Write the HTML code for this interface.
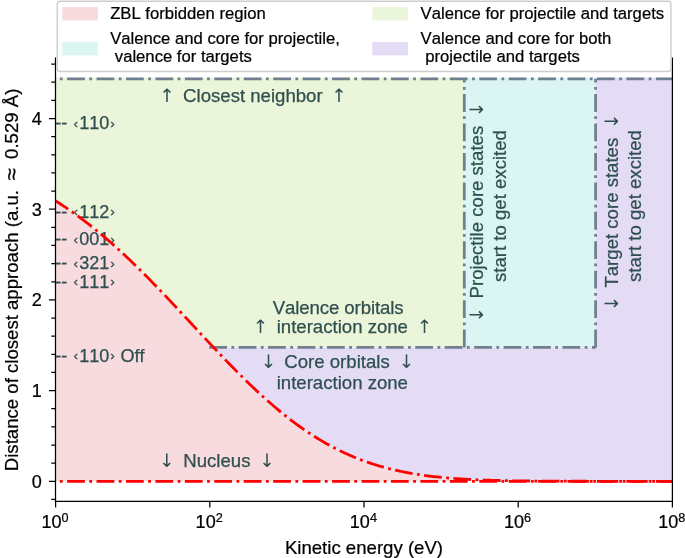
<!DOCTYPE html>
<html lang="en"><head><meta charset="utf-8"><title>Distance of closest approach vs kinetic energy</title>
<style>
html,body{margin:0;padding:0;background:#fff;}
svg{display:block;will-change:transform;}
text{font-family:"Liberation Sans","DejaVu Sans",sans-serif;font-size:18.06px;font-kerning:none;font-variant-ligatures:none;white-space:pre;}
.an{font-size:18.6px;fill:#2f4f4f;stroke:#2f4f4f;stroke-width:0.25px;}
.ar{font-family:"DejaVu Sans",sans-serif;font-size:18.5px;fill:#2f4f4f;text-anchor:middle;}
.gu{font-size:13.6px;}
.hk{font-size:18.06px;fill:#2f4f4f;stroke:#2f4f4f;stroke-width:0.25px;}
.tk{fill:#000;stroke:#000;stroke-width:0.22px;}
.al{font-size:18.6px;fill:#000;stroke:#000;stroke-width:0.22px;}
.lg{fill:#000;font-size:16.67px;stroke:#000;stroke-width:0.22px;}
.sup{font-size:12.64px;}
.gl{fill:none;stroke:#708090;stroke-width:2.78;stroke-dasharray:17.78 4.44 2.78 4.44;}
.rl{fill:none;stroke:#ff0000;stroke-width:2.78;stroke-dasharray:17.78 4.44 2.78 4.44;}
.ax{stroke:#000;stroke-width:1.25;fill:none;}
</style></head><body>
<svg width="685" height="558" viewBox="0 0 685 558">
<defs><clipPath id="axclip"><rect x="55.5" y="58.2" width="616.9" height="443.2"/></clipPath></defs>
<rect x="0" y="0" width="685" height="558" fill="#fff"/>
<g clip-path="url(#axclip)">
<polygon fill="#f8dbdf" points="55.50,200.79 57.50,202.07 59.50,203.36 61.50,204.66 63.50,205.99 65.50,207.33 67.50,208.69 69.50,210.07 71.50,211.46 73.50,212.88 75.50,214.31 77.50,215.76 79.50,217.23 81.50,218.72 83.50,220.22 85.50,221.74 87.50,223.29 89.50,224.84 91.50,226.42 93.50,228.02 95.50,229.63 97.50,231.27 99.50,232.91 101.50,234.58 103.50,236.27 105.50,237.97 107.50,239.69 109.50,241.43 111.50,243.18 113.50,244.95 115.50,246.74 117.50,248.55 119.50,250.37 121.50,252.20 123.50,254.05 125.50,255.92 127.50,257.80 129.50,259.70 131.50,261.61 133.50,263.54 135.50,265.48 137.50,267.43 139.50,269.40 141.50,271.38 143.50,273.37 145.50,275.38 147.50,277.39 149.50,279.42 151.50,281.46 153.50,283.51 155.50,285.56 157.50,287.63 159.50,289.71 161.50,291.80 163.50,293.89 165.50,295.99 167.50,298.10 169.50,300.21 171.50,302.34 173.50,304.46 175.50,306.60 177.50,308.73 179.50,310.87 181.50,313.02 183.50,315.17 185.50,317.32 187.50,319.47 189.50,321.62 191.50,323.77 193.50,325.93 195.50,328.08 197.50,330.23 199.50,332.39 201.50,334.53 203.50,336.68 205.50,338.82 207.50,340.96 209.50,343.10 211.50,345.23 213.50,347.35 215.50,349.47 217.50,351.58 219.50,353.69 221.50,355.78 223.50,357.87 225.50,359.95 227.50,362.02 229.50,364.08 231.50,366.13 233.50,368.17 235.50,370.20 237.50,372.21 239.50,374.21 241.50,376.20 243.50,378.18 245.50,380.14 247.50,382.09 249.50,384.02 251.50,385.94 253.50,387.84 255.50,389.72 257.50,391.59 259.50,393.44 261.50,395.28 263.50,397.09 265.50,398.89 267.50,400.67 269.50,402.43 271.50,404.17 273.50,405.90 275.50,407.60 277.50,409.28 279.50,410.94 281.50,412.58 283.50,414.20 285.50,415.80 287.50,417.38 289.50,418.93 291.50,420.47 293.50,421.98 295.50,423.47 297.50,424.94 299.50,426.38 301.50,427.81 303.50,429.21 305.50,430.58 307.50,431.94 309.50,433.27 311.50,434.58 313.50,435.87 315.50,437.13 317.50,438.37 319.50,439.59 321.50,440.78 323.50,441.95 325.50,443.10 327.50,444.23 329.50,445.33 331.50,446.42 333.50,447.48 335.50,448.51 337.50,449.53 339.50,450.52 341.50,451.49 343.50,452.44 345.50,453.36 347.50,454.27 349.50,455.15 351.50,456.02 353.50,456.86 355.50,457.68 357.50,458.48 359.50,459.27 361.50,460.03 363.50,460.77 365.50,461.49 367.50,462.19 369.50,462.88 371.50,463.54 373.50,464.19 375.50,464.82 377.50,465.43 379.50,466.02 381.50,466.60 383.50,467.16 385.50,467.70 387.50,468.23 389.50,468.74 391.50,469.23 393.50,469.71 395.50,470.17 397.50,470.62 399.50,471.06 401.50,471.48 403.50,471.88 405.50,472.28 407.50,472.66 409.50,473.02 411.50,473.38 413.50,473.72 415.50,474.05 417.50,474.36 419.50,474.67 421.50,474.96 423.50,475.25 425.50,475.52 427.50,475.78 429.50,476.04 431.50,476.28 433.50,476.51 435.50,476.74 437.50,476.96 439.50,477.16 441.50,477.36 443.50,477.55 445.50,477.73 447.50,477.91 449.50,478.08 451.50,478.24 453.50,478.39 455.50,478.54 457.50,478.68 459.50,478.81 461.50,478.94 463.50,479.07 465.50,479.18 467.50,479.30 469.50,479.40 471.50,479.50 473.50,479.60 475.50,479.69 477.50,479.78 479.50,479.87 481.50,479.95 483.50,480.02 485.50,480.09 487.50,480.16 489.50,480.23 491.50,480.29 493.50,480.35 495.50,480.40 497.50,480.46 499.50,480.51 501.50,480.55 503.50,480.60 505.50,480.64 507.50,480.68 509.50,480.72 511.50,480.75 513.50,480.79 515.50,480.82 517.50,480.85 519.50,480.88 521.50,480.91 523.50,480.93 525.50,480.95 527.50,480.98 529.50,481.00 531.50,481.02 533.50,481.04 535.50,481.05 537.50,481.07 539.50,481.09 541.50,481.10 543.50,481.11 545.50,481.13 547.50,481.14 549.50,481.15 551.50,481.16 553.50,481.17 555.50,481.18 557.50,481.19 559.50,481.20 561.50,481.20 563.50,481.21 565.50,481.22 567.50,481.22 569.50,481.23 571.50,481.23 573.50,481.24 575.50,481.24 577.50,481.25 579.50,481.25 581.50,481.26 583.50,481.26 585.50,481.26 587.50,481.27 589.50,481.27 591.50,481.27 593.50,481.27 595.50,481.28 597.50,481.28 599.50,481.28 601.50,481.28 603.50,481.28 605.50,481.28 607.50,481.29 609.50,481.29 611.50,481.29 613.50,481.29 615.50,481.29 617.50,481.29 619.50,481.29 621.50,481.29 623.50,481.29 625.50,481.29 627.50,481.29 629.50,481.29 631.50,481.29 633.50,481.30 635.50,481.30 637.50,481.30 639.50,481.30 641.50,481.30 643.50,481.30 645.50,481.30 647.50,481.30 649.50,481.30 651.50,481.30 653.50,481.30 655.50,481.30 657.50,481.30 659.50,481.30 661.50,481.30 663.50,481.30 665.50,481.30 667.50,481.30 669.50,481.30 671.50,481.30 672.40,481.30 672.40,481.30 55.50,481.30"/>
<polygon fill="#ebf5d9" points="55.50,200.79 57.50,202.07 59.50,203.36 61.50,204.66 63.50,205.99 65.50,207.33 67.50,208.69 69.50,210.07 71.50,211.46 73.50,212.88 75.50,214.31 77.50,215.76 79.50,217.23 81.50,218.72 83.50,220.22 85.50,221.74 87.50,223.29 89.50,224.84 91.50,226.42 93.50,228.02 95.50,229.63 97.50,231.27 99.50,232.91 101.50,234.58 103.50,236.27 105.50,237.97 107.50,239.69 109.50,241.43 111.50,243.18 113.50,244.95 115.50,246.74 117.50,248.55 119.50,250.37 121.50,252.20 123.50,254.05 125.50,255.92 127.50,257.80 129.50,259.70 131.50,261.61 133.50,263.54 135.50,265.48 137.50,267.43 139.50,269.40 141.50,271.38 143.50,273.37 145.50,275.38 147.50,277.39 149.50,279.42 151.50,281.46 153.50,283.51 155.50,285.56 157.50,287.63 159.50,289.71 161.50,291.80 163.50,293.89 165.50,295.99 167.50,298.10 169.50,300.21 171.50,302.34 173.50,304.46 175.50,306.60 177.50,308.73 179.50,310.87 181.50,313.02 183.50,315.17 185.50,317.32 187.50,319.47 189.50,321.62 191.50,323.77 193.50,325.93 195.50,328.08 197.50,330.23 199.50,332.39 201.50,334.53 203.50,336.68 205.50,338.82 207.50,340.96 209.50,343.10 211.50,345.23 213.50,347.35 213.54,347.40 464.30,347.40 464.30,77.60 55.50,77.60"/>
<polygon fill="#dbf6f2" points="464.30,77.60 595.60,77.60 595.60,347.40 464.30,347.40"/>
<polygon fill="#e4dbf5" points="213.54,347.40 215.54,349.52 217.54,351.63 219.54,353.73 221.54,355.83 223.54,357.92 225.54,360.00 227.54,362.07 229.54,364.13 231.54,366.18 233.54,368.21 235.54,370.24 237.54,372.26 239.54,374.26 241.54,376.25 243.54,378.22 245.54,380.18 247.54,382.13 249.54,384.06 251.54,385.98 253.54,387.88 255.54,389.77 257.54,391.63 259.54,393.49 261.54,395.32 263.54,397.14 265.54,398.93 267.54,400.71 269.54,402.47 271.54,404.21 273.54,405.93 275.54,407.64 277.54,409.32 279.54,410.98 281.54,412.62 283.54,414.24 285.54,415.84 287.54,417.41 289.54,418.97 291.54,420.50 293.54,422.01 295.54,423.50 297.54,424.97 299.54,426.41 301.54,427.84 303.54,429.24 305.54,430.61 307.54,431.97 309.54,433.30 311.54,434.61 313.54,435.89 315.54,437.16 317.54,438.40 319.54,439.61 321.54,440.81 323.54,441.98 325.54,443.13 327.54,444.26 329.54,445.36 331.54,446.44 333.54,447.50 335.54,448.53 337.54,449.55 339.54,450.54 341.54,451.51 343.54,452.46 345.54,453.39 347.54,454.29 349.54,455.17 351.54,456.04 353.54,456.88 355.54,457.70 357.54,458.50 359.54,459.28 361.54,460.04 363.54,460.78 365.54,461.51 367.54,462.21 369.54,462.89 371.54,463.56 373.54,464.20 375.54,464.83 377.54,465.44 379.54,466.04 381.54,466.61 383.54,467.17 385.54,467.71 387.54,468.24 389.54,468.75 391.54,469.24 393.54,469.72 395.54,470.18 397.54,470.63 399.54,471.07 401.54,471.49 403.54,471.89 405.54,472.28 407.54,472.66 409.54,473.03 411.54,473.38 413.54,473.72 415.54,474.05 417.54,474.37 419.54,474.68 421.54,474.97 423.54,475.25 425.54,475.53 427.54,475.79 429.54,476.04 431.54,476.29 433.54,476.52 435.54,476.74 437.54,476.96 439.54,477.17 441.54,477.37 443.54,477.56 445.54,477.74 447.54,477.91 449.54,478.08 451.54,478.24 453.54,478.40 455.54,478.54 457.54,478.68 459.54,478.82 461.54,478.95 463.54,479.07 465.54,479.19 467.54,479.30 469.54,479.40 471.54,479.51 473.54,479.60 475.54,479.70 477.54,479.78 479.54,479.87 481.54,479.95 483.54,480.02 485.54,480.09 487.54,480.16 489.54,480.23 491.54,480.29 493.54,480.35 495.54,480.40 497.54,480.46 499.54,480.51 501.54,480.55 503.54,480.60 505.54,480.64 507.54,480.68 509.54,480.72 511.54,480.75 513.54,480.79 515.54,480.82 517.54,480.85 519.54,480.88 521.54,480.91 523.54,480.93 525.54,480.96 527.54,480.98 529.54,481.00 531.54,481.02 533.54,481.04 535.54,481.05 537.54,481.07 539.54,481.09 541.54,481.10 543.54,481.11 545.54,481.13 547.54,481.14 549.54,481.15 551.54,481.16 553.54,481.17 555.54,481.18 557.54,481.19 559.54,481.20 561.54,481.20 563.54,481.21 565.54,481.22 567.54,481.22 569.54,481.23 571.54,481.23 573.54,481.24 575.54,481.24 577.54,481.25 579.54,481.25 581.54,481.26 583.54,481.26 585.54,481.26 587.54,481.27 589.54,481.27 591.54,481.27 593.54,481.27 595.54,481.28 597.54,481.28 599.54,481.28 601.54,481.28 603.54,481.28 605.54,481.28 607.54,481.29 609.54,481.29 611.54,481.29 613.54,481.29 615.54,481.29 617.54,481.29 619.54,481.29 621.54,481.29 623.54,481.29 625.54,481.29 627.54,481.29 629.54,481.29 631.54,481.29 633.54,481.30 635.54,481.30 637.54,481.30 639.54,481.30 641.54,481.30 643.54,481.30 645.54,481.30 647.54,481.30 649.54,481.30 651.54,481.30 653.54,481.30 655.54,481.30 657.54,481.30 659.54,481.30 661.54,481.30 663.54,481.30 665.54,481.30 667.54,481.30 669.54,481.30 671.54,481.30 672.40,481.30 672.40,77.60 595.60,77.60 595.60,347.40 213.54,347.40"/>
<path class="gl" d="M37.66,78.8 H672.4"/>
<path class="gl" d="M209.2,347.4 H595.6"/>
<path class="gl" d="M464.3,347.4 V78.8"/>
<path class="gl" d="M595.6,347.4 V78.8"/>

<text class="hk" y="128.8"><tspan x="55.3">--</tspan><tspan class="gu" x="73.4" dy="-1.3">‹</tspan><tspan x="79.3" dy="1.3">110</tspan><tspan class="gu" x="110.2" dy="-1.3">›</tspan><tspan dy="1.3"></tspan></text>
<text class="hk" y="217.5"><tspan x="55.3">--</tspan><tspan class="gu" x="73.4" dy="-1.3">‹</tspan><tspan x="79.3" dy="1.3">112</tspan><tspan class="gu" x="110.2" dy="-1.3">›</tspan><tspan dy="1.3"></tspan></text>
<text class="hk" y="244.9"><tspan x="55.3">--</tspan><tspan class="gu" x="73.4" dy="-1.3">‹</tspan><tspan x="79.3" dy="1.3">001</tspan><tspan class="gu" x="110.2" dy="-1.3">›</tspan><tspan dy="1.3"></tspan></text>
<text class="hk" y="269.1"><tspan x="55.3">--</tspan><tspan class="gu" x="73.4" dy="-1.3">‹</tspan><tspan x="79.3" dy="1.3">321</tspan><tspan class="gu" x="110.2" dy="-1.3">›</tspan><tspan dy="1.3"></tspan></text>
<text class="hk" y="287.5"><tspan x="55.3">--</tspan><tspan class="gu" x="73.4" dy="-1.3">‹</tspan><tspan x="79.3" dy="1.3">111</tspan><tspan class="gu" x="110.2" dy="-1.3">›</tspan><tspan dy="1.3"></tspan></text>
<text class="hk" y="361.7"><tspan x="55.3">--</tspan><tspan class="gu" x="73.4" dy="-1.3">‹</tspan><tspan x="79.3" dy="1.3">110</tspan><tspan class="gu" x="110.2" dy="-1.3">›</tspan><tspan dy="1.3"></tspan><tspan x="120.5" y="361.7">Off</tspan></text>
<text class="ar" x="166.9" y="101.8" >↑</text>
<text class="an" x="183.1" y="101.8" >Closest neighbor</text>
<text class="ar" x="339.1" y="101.8" >↑</text>
<text class="an" x="272.8" y="314.2" letter-spacing="-0.1">Valence orbitals</text>
<text class="ar" x="260.4" y="333.2" >↑</text>
<text class="an" x="276.7" y="333.2" >interaction zone</text>
<text class="ar" x="424.4" y="333.2" >↑</text>
<text class="ar" x="268.4" y="368.2" >↓</text>
<text class="an" x="284.3" y="368.2" >Core orbitals</text>
<text class="ar" x="406.4" y="368.2" >↓</text>
<text class="an" x="276.7" y="389.3" >interaction zone</text>
<text class="ar" x="166.7" y="467" >↓</text>
<text class="an" x="183.3" y="467" >Nucleus</text>
<text class="ar" x="267" y="467" >↓</text>
<text class="ar" transform="translate(483,314.8) rotate(-90)">↓</text>
<text class="an" transform="translate(483,298.4) rotate(-90)">Projectile core states</text>
<text class="ar" transform="translate(483,109.6) rotate(-90)">↓</text>
<text class="an" transform="translate(505.5,282) rotate(-90)">start to get excited</text>
<text class="ar" transform="translate(617.6,303.5) rotate(-90)">↓</text>
<text class="an" transform="translate(617.6,287.6) rotate(-90)">Target core states</text>
<text class="ar" transform="translate(617.6,121.2) rotate(-90)">↓</text>
<text class="an" transform="translate(641,282) rotate(-90)">start to get excited</text>
<path class="rl" d="M37.66,481.3 H672.4"/>
<polyline class="rl" stroke-dashoffset="11.24" points="37.66,190.19 39.66,191.31 41.66,192.45 43.66,193.61 45.66,194.78 47.66,195.97 49.66,197.18 51.66,198.40 53.66,199.64 55.66,200.89 57.66,202.17 59.66,203.46 61.66,204.77 63.66,206.09 65.66,207.44 67.66,208.80 69.66,210.18 71.66,211.58 73.66,212.99 75.66,214.42 77.66,215.88 79.66,217.35 81.66,218.83 83.66,220.34 85.66,221.87 87.66,223.41 89.66,224.97 91.66,226.55 93.66,228.15 95.66,229.76 97.66,231.40 99.66,233.05 101.66,234.72 103.66,236.40 105.66,238.11 107.66,239.83 109.66,241.57 111.66,243.32 113.66,245.10 115.66,246.88 117.66,248.69 119.66,250.51 121.66,252.35 123.66,254.20 125.66,256.07 127.66,257.95 129.66,259.85 131.66,261.77 133.66,263.69 135.66,265.63 137.66,267.59 139.66,269.56 141.66,271.54 143.66,273.53 145.66,275.54 147.66,277.55 149.66,279.58 151.66,281.62 153.66,283.67 155.66,285.73 157.66,287.80 159.66,289.88 161.66,291.96 163.66,294.06 165.66,296.16 167.66,298.27 169.66,300.38 171.66,302.51 173.66,304.63 175.66,306.77 177.66,308.90 179.66,311.05 181.66,313.19 183.66,315.34 185.66,317.49 187.66,319.64 189.66,321.79 191.66,323.95 193.66,326.10 195.66,328.25 197.66,330.41 199.66,332.56 201.66,334.71 203.66,336.85 205.66,339.00 207.66,341.13 209.66,343.27 211.66,345.40 213.66,347.52 215.66,349.64 217.66,351.75 219.66,353.85 221.66,355.95 223.66,358.04 225.66,360.12 227.66,362.19 229.66,364.25 231.66,366.29 233.66,368.33 235.66,370.36 237.66,372.37 239.66,374.37 241.66,376.36 243.66,378.34 245.66,380.30 247.66,382.24 249.66,384.18 251.66,386.09 253.66,387.99 255.66,389.87 257.66,391.74 259.66,393.59 261.66,395.42 263.66,397.24 265.66,399.04 267.66,400.81 269.66,402.57 271.66,404.31 273.66,406.03 275.66,407.73 277.66,409.41 279.66,411.07 281.66,412.71 283.66,414.33 285.66,415.93 287.66,417.50 289.66,419.06 291.66,420.59 293.66,422.10 295.66,423.59 297.66,425.05 299.66,426.50 301.66,427.92 303.66,429.32 305.66,430.69 307.66,432.05 309.66,433.38 311.66,434.68 313.66,435.97 315.66,437.23 317.66,438.47 319.66,439.68 321.66,440.88 323.66,442.05 325.66,443.20 327.66,444.32 329.66,445.42 331.66,446.50 333.66,447.56 335.66,448.59 337.66,449.61 339.66,450.60 341.66,451.57 343.66,452.51 345.66,453.44 347.66,454.34 349.66,455.22 351.66,456.09 353.66,456.93 355.66,457.75 357.66,458.55 359.66,459.33 361.66,460.09 363.66,460.83 365.66,461.55 367.66,462.25 369.66,462.93 371.66,463.59 373.66,464.24 375.66,464.87 377.66,465.48 379.66,466.07 381.66,466.64 383.66,467.20 385.66,467.74 387.66,468.27 389.66,468.78 391.66,469.27 393.66,469.75 395.66,470.21 397.66,470.66 399.66,471.09 401.66,471.51 403.66,471.92 405.66,472.31 407.66,472.69 409.66,473.05 411.66,473.40 413.66,473.74 415.66,474.07 417.66,474.39 419.66,474.69 421.66,474.99 423.66,475.27 425.66,475.54 427.66,475.80 429.66,476.06 431.66,476.30 433.66,476.53 435.66,476.76 437.66,476.97 439.66,477.18 441.66,477.38 443.66,477.57 445.66,477.75 447.66,477.92 449.66,478.09 451.66,478.25 453.66,478.40 455.66,478.55 457.66,478.69 459.66,478.83 461.66,478.95 463.66,479.08 465.66,479.19 467.66,479.30 469.66,479.41 471.66,479.51 473.66,479.61 475.66,479.70 477.66,479.79 479.66,479.87 481.66,479.95 483.66,480.03 485.66,480.10 487.66,480.17 489.66,480.23 491.66,480.29 493.66,480.35 495.66,480.41 497.66,480.46 499.66,480.51 501.66,480.56 503.66,480.60 505.66,480.64 507.66,480.68 509.66,480.72 511.66,480.76 513.66,480.79 515.66,480.82 517.66,480.85 519.66,480.88 521.66,480.91 523.66,480.93 525.66,480.96 527.66,480.98 529.66,481.00 531.66,481.02 533.66,481.04 535.66,481.06 537.66,481.07 539.66,481.09 541.66,481.10 543.66,481.12 545.66,481.13 547.66,481.14 549.66,481.15 551.66,481.16 553.66,481.17 555.66,481.18 557.66,481.19 559.66,481.20 561.66,481.20 563.66,481.21 565.66,481.22 567.66,481.22 569.66,481.23 571.66,481.23 573.66,481.24 575.66,481.24 577.66,481.25 579.66,481.25 581.66,481.26 583.66,481.26 585.66,481.26 587.66,481.27 589.66,481.27 591.66,481.27 593.66,481.27 595.66,481.28 597.66,481.28 599.66,481.28 601.66,481.28 603.66,481.28 605.66,481.28 607.66,481.29 609.66,481.29 611.66,481.29 613.66,481.29 615.66,481.29 617.66,481.29 619.66,481.29 621.66,481.29 623.66,481.29 625.66,481.29 627.66,481.29 629.66,481.29 631.66,481.29 633.66,481.30 635.66,481.30 637.66,481.30 639.66,481.30 641.66,481.30 643.66,481.30 645.66,481.30 647.66,481.30 649.66,481.30 651.66,481.30 653.66,481.30 655.66,481.30 657.66,481.30 659.66,481.30 661.66,481.30 663.66,481.30 665.66,481.30 667.66,481.30 669.66,481.30 671.66,481.30 672.40,481.30"/>
</g>
<path class="ax" d="M55.5,58.2 V501.4 H672.4 V58.2" stroke-linecap="square"/>
<path class="ax" d="M55.5,499.44h-4.2 M55.5,481.30h-6.6 M55.5,463.16h-4.2 M55.5,445.02h-4.2 M55.5,426.88h-4.2 M55.5,408.74h-4.2 M55.5,390.60h-6.6 M55.5,372.46h-4.2 M55.5,354.32h-4.2 M55.5,336.18h-4.2 M55.5,318.04h-4.2 M55.5,299.90h-6.6 M55.5,281.76h-4.2 M55.5,263.62h-4.2 M55.5,245.48h-4.2 M55.5,227.34h-4.2 M55.5,209.20h-6.6 M55.5,191.06h-4.2 M55.5,172.92h-4.2 M55.5,154.78h-4.2 M55.5,136.64h-4.2 M55.5,118.50h-6.6 M55.5,100.36h-4.2 M55.5,82.22h-4.2 M55.5,64.08h-4.2"/>
<text class="tk" x="41.8" y="487.8" text-anchor="end">0</text>
<text class="tk" x="41.8" y="397.1" text-anchor="end">1</text>
<text class="tk" x="41.8" y="306.4" text-anchor="end">2</text>
<text class="tk" x="41.8" y="215.7" text-anchor="end">3</text>
<text class="tk" x="41.8" y="125.0" text-anchor="end">4</text>
<text class="tk" x="41.4" y="528.3">10<tspan class="sup" dy="-6.6">0</tspan></text>
<text class="tk" x="195.6" y="528.3">10<tspan class="sup" dy="-6.6">2</tspan></text>
<text class="tk" x="349.8" y="528.3">10<tspan class="sup" dy="-6.6">4</tspan></text>
<text class="tk" x="504.0" y="528.3">10<tspan class="sup" dy="-6.6">6</tspan></text>
<text class="tk" x="658.2" y="528.3">10<tspan class="sup" dy="-6.6">8</tspan></text>
<path class="ax" d="M55.60,501.4v6.2 M209.80,501.4v6.2 M364.00,501.4v6.2 M518.20,501.4v6.2 M672.40,501.4v6.2"/>
<text class="al" x="284.9" y="553.7" >Kinetic energy (eV)</text>
<text class="al" transform="translate(18,471.2) rotate(-90)">Distance of closest approach (a.u.<tspan dx="9.6" dy="0.6" font-size="22px">≈</tspan><tspan dx="9.5" dy="-0.6">0.529 Å)</tspan></text>
<rect x="57.3" y="1.2" width="613.7" height="70.3" rx="3" ry="3" fill="#fff" stroke="#cdcdcd" stroke-width="1.4"/>
<rect x="62.3" y="7" width="35.6" height="13.5" fill="#f8dbdf"/>
<rect x="62.3" y="41.9" width="35.6" height="13.5" fill="#dbf6f2"/>
<rect x="372.3" y="7" width="35.6" height="13.5" fill="#ebf5d9"/>
<rect x="372.3" y="41.9" width="35.6" height="13.5" fill="#e4dbf5"/>
<text class="lg" x="110.2" y="19.3" >ZBL forbidden region</text>
<text class="lg" x="110.2" y="43.7" >Valence and core for projectile,</text>
<text class="lg" x="110.2" y="62.0" >&#160;valence for targets</text>
<text class="lg" x="420.6" y="19.3" >Valence for projectile and targets</text>
<text class="lg" x="420.6" y="43.7" >Valence and core for both</text>
<text class="lg" x="420.6" y="62.0" >&#160;projectile and targets</text>
</svg></body></html>
